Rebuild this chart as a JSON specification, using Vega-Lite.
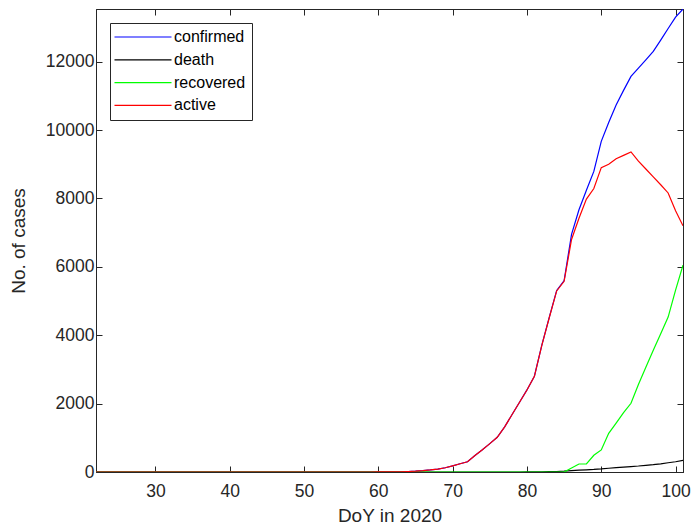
{
  "$schema": "https://vega.github.io/schema/vega-lite/v6.json",
  "width": 587,
  "height": 463,
  "autosize": {"type": "none"},
  "padding": {"left": 96, "top": 9, "right": 9, "bottom": 58},
  "background": "white",
  "config": {
    "view": {"stroke": "#262626", "strokeWidth": 1},
    "font": "Liberation Sans",
    "axis": {
      "grid": false,
      "domainColor": "#262626",
      "tickColor": "#262626",
      "labelColor": "#262626",
      "titleColor": "#262626",
      "labelFont": "Liberation Sans",
      "titleFont": "Liberation Sans",
      "labelFontSize": 17.5,
      "titleFontSize": 19,
      "titleFontWeight": "normal",
      "tickSize": -6
    }
  },
  "data": {
    "values": [
      {"d":22,"confirmed":0,"death":0,"recovered":0,"active":0},
      {"d":23,"confirmed":0,"death":0,"recovered":0,"active":0},
      {"d":24,"confirmed":0,"death":0,"recovered":0,"active":0},
      {"d":25,"confirmed":0,"death":0,"recovered":0,"active":0},
      {"d":26,"confirmed":0,"death":0,"recovered":0,"active":0},
      {"d":27,"confirmed":0,"death":0,"recovered":0,"active":0},
      {"d":28,"confirmed":0,"death":0,"recovered":0,"active":0},
      {"d":29,"confirmed":0,"death":0,"recovered":0,"active":0},
      {"d":30,"confirmed":0,"death":0,"recovered":0,"active":0},
      {"d":31,"confirmed":0,"death":0,"recovered":0,"active":0},
      {"d":32,"confirmed":0,"death":0,"recovered":0,"active":0},
      {"d":33,"confirmed":0,"death":0,"recovered":0,"active":0},
      {"d":34,"confirmed":0,"death":0,"recovered":0,"active":0},
      {"d":35,"confirmed":0,"death":0,"recovered":0,"active":0},
      {"d":36,"confirmed":0,"death":0,"recovered":0,"active":0},
      {"d":37,"confirmed":0,"death":0,"recovered":0,"active":0},
      {"d":38,"confirmed":0,"death":0,"recovered":0,"active":0},
      {"d":39,"confirmed":0,"death":0,"recovered":0,"active":0},
      {"d":40,"confirmed":0,"death":0,"recovered":0,"active":0},
      {"d":41,"confirmed":0,"death":0,"recovered":0,"active":0},
      {"d":42,"confirmed":0,"death":0,"recovered":0,"active":0},
      {"d":43,"confirmed":0,"death":0,"recovered":0,"active":0},
      {"d":44,"confirmed":0,"death":0,"recovered":0,"active":0},
      {"d":45,"confirmed":0,"death":0,"recovered":0,"active":0},
      {"d":46,"confirmed":0,"death":0,"recovered":0,"active":0},
      {"d":47,"confirmed":0,"death":0,"recovered":0,"active":0},
      {"d":48,"confirmed":0,"death":0,"recovered":0,"active":0},
      {"d":49,"confirmed":0,"death":0,"recovered":0,"active":0},
      {"d":50,"confirmed":0,"death":0,"recovered":0,"active":0},
      {"d":51,"confirmed":0,"death":0,"recovered":0,"active":0},
      {"d":52,"confirmed":0,"death":0,"recovered":0,"active":0},
      {"d":53,"confirmed":0,"death":0,"recovered":0,"active":0},
      {"d":54,"confirmed":0,"death":0,"recovered":0,"active":0},
      {"d":55,"confirmed":0,"death":0,"recovered":0,"active":0},
      {"d":56,"confirmed":0,"death":0,"recovered":0,"active":0},
      {"d":57,"confirmed":0,"death":0,"recovered":0,"active":0},
      {"d":58,"confirmed":0,"death":0,"recovered":0,"active":0},
      {"d":59,"confirmed":0,"death":0,"recovered":0,"active":0},
      {"d":60,"confirmed":1,"death":0,"recovered":0,"active":1},
      {"d":61,"confirmed":2,"death":0,"recovered":0,"active":2},
      {"d":62,"confirmed":5,"death":0,"recovered":0,"active":5},
      {"d":63,"confirmed":8,"death":0,"recovered":0,"active":8},
      {"d":64,"confirmed":15,"death":0,"recovered":0,"active":15},
      {"d":65,"confirmed":25,"death":0,"recovered":0,"active":25},
      {"d":66,"confirmed":40,"death":0,"recovered":0,"active":40},
      {"d":67,"confirmed":60,"death":0,"recovered":0,"active":60},
      {"d":68,"confirmed":85,"death":0,"recovered":0,"active":85},
      {"d":69,"confirmed":125,"death":0,"recovered":0,"active":125},
      {"d":70,"confirmed":180,"death":0,"recovered":0,"active":180},
      {"d":71,"confirmed":240,"death":0,"recovered":0,"active":240},
      {"d":72,"confirmed":300,"death":0,"recovered":0,"active":300},
      {"d":73,"confirmed":480,"death":0,"recovered":0,"active":480},
      {"d":74,"confirmed":650,"death":0,"recovered":0,"active":650},
      {"d":75,"confirmed":830,"death":0,"recovered":0,"active":830},
      {"d":76,"confirmed":1015,"death":0,"recovered":0,"active":1015},
      {"d":77,"confirmed":1320,"death":0,"recovered":0,"active":1320},
      {"d":78,"confirmed":1680,"death":0,"recovered":0,"active":1680},
      {"d":79,"confirmed":2040,"death":0,"recovered":0,"active":2040},
      {"d":80,"confirmed":2400,"death":1,"recovered":0,"active":2399},
      {"d":81,"confirmed":2800,"death":2,"recovered":0,"active":2798},
      {"d":82,"confirmed":3710,"death":5,"recovered":0,"active":3705},
      {"d":83,"confirmed":4520,"death":10,"recovered":0,"active":4510},
      {"d":84,"confirmed":5310,"death":15,"recovered":0,"active":5295},
      {"d":85,"confirmed":5600,"death":25,"recovered":0,"active":5575},
      {"d":86,"confirmed":6950,"death":40,"recovered":115,"active":6800},
      {"d":87,"confirmed":7670,"death":55,"recovered":234,"active":7420},
      {"d":88,"confirmed":8240,"death":65,"recovered":234,"active":7980},
      {"d":89,"confirmed":8790,"death":75,"recovered":490,"active":8290},
      {"d":90,"confirmed":9670,"death":90,"recovered":645,"active":8900},
      {"d":91,"confirmed":10220,"death":110,"recovered":1130,"active":9000},
      {"d":92,"confirmed":10730,"death":130,"recovered":1430,"active":9160},
      {"d":93,"confirmed":11160,"death":145,"recovered":1735,"active":9260},
      {"d":94,"confirmed":11570,"death":160,"recovered":2010,"active":9360},
      {"d":95,"confirmed":11810,"death":175,"recovered":2560,"active":9090},
      {"d":96,"confirmed":12050,"death":195,"recovered":3060,"active":8860},
      {"d":97,"confirmed":12300,"death":215,"recovered":3560,"active":8630},
      {"d":98,"confirmed":12630,"death":240,"recovered":4040,"active":8400},
      {"d":99,"confirmed":12970,"death":270,"recovered":4530,"active":8160},
      {"d":100,"confirmed":13300,"death":300,"recovered":5320,"active":7640},
      {"d":101,"confirmed":13540,"death":340,"recovered":6050,"active":7200}
    ]
  },
  "transform": [
    {"fold": ["confirmed", "death", "recovered", "active"], "as": ["series", "value"]}
  ],
  "resolve": {"scale": {"x": "independent", "y": "independent"}, "axis": {"x": "independent", "y": "independent"}},
  "layer": [
    {
      "mark": {"type": "line", "opacity": 0},
      "encoding": {
        "x": {"field": "d", "type": "quantitative", "scale": {"domain": [22, 101], "nice": false, "zero": false}, "axis": {"orient": "top", "values": [30, 40, 50, 60, 70, 80, 90, 100], "labels": false, "title": null}},
        "y": {"field": "value", "type": "quantitative", "scale": {"domain": [0, 13540], "nice": false}, "axis": {"orient": "right", "values": [0, 2000, 4000, 6000, 8000, 10000, 12000], "labels": false, "title": null}},
        "detail": {"field": "series"}
      }
    },
    {
      "mark": {"type": "line", "strokeWidth": 1.2, "clip": true},
      "encoding": {
        "x": {
          "field": "d", "type": "quantitative",
          "scale": {"domain": [22, 101], "nice": false, "zero": false},
          "axis": {"orient": "bottom", "values": [30, 40, 50, 60, 70, 80, 90, 100], "title": "DoY in 2020", "labelPadding": 16, "titlePadding": 7, "labelFlush": false}
        },
        "y": {
          "field": "value", "type": "quantitative",
          "scale": {"domain": [0, 13540], "nice": false},
          "axis": {"orient": "left", "values": [0, 2000, 4000, 6000, 8000, 10000, 12000], "format": "d", "title": "No. of cases", "labelPadding": 8, "titlePadding": 17, "labelFlush": false}
        },
        "color": {
          "field": "series", "type": "nominal",
          "scale": {"domain": ["confirmed", "death", "recovered", "active"], "range": ["#0000ff", "#000000", "#00ff00", "#ff0000"]},
          "legend": {
            "orient": "none", "legendX": 14, "legendY": 14,
            "title": null,
            "strokeColor": "#262626", "fillColor": "white",
            "padding": 6,
            "symbolType": "M-5,0H5", "symbolSize": 130, "symbolStrokeWidth": 1.2,
            "symbolOffset": 19,
            "labelFontSize": 16, "labelColor": "#000000", "labelOffset": 23,
            "rowPadding": 6.8
          }
        }
      }
    }
  ]
}
